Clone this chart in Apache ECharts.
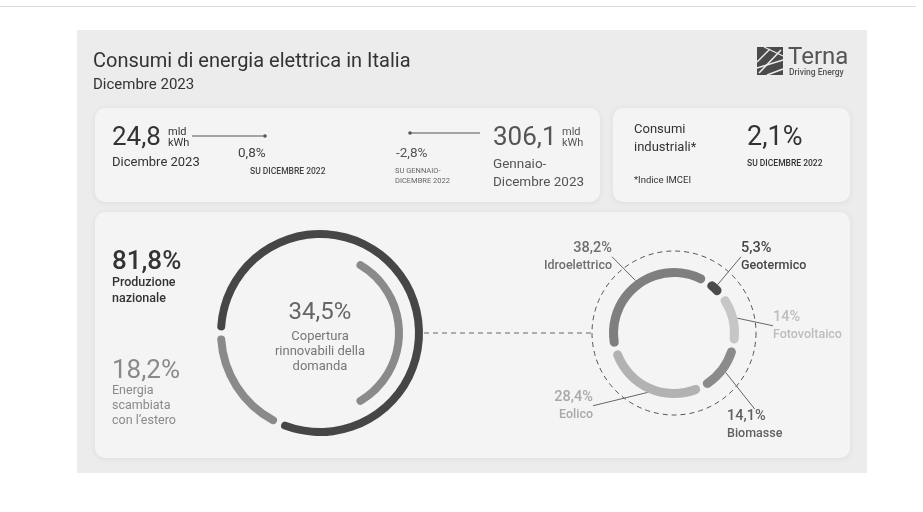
<!DOCTYPE html>
<html>
<head>
<meta charset="utf-8">
<script src="https://cdn.jsdelivr.net/npm/echarts@6/dist/echarts.min.js"></script>
<style>
  html, body { margin: 0; padding: 0; background: #fff; }
  #chart { width: 923px; height: 512px; }
</style>
</head>
<body>
<div id="chart"></div>
<script>
// valori del mese / anno
var monthConsumption = 24.8;
var monthChange = 0.8;
var yearConsumption = 306.1;
var yearChange = -2.8;
var industrialChange = 2.1;

// provenienza dell'energia
var originNames = ['Produzione nazionale', "Energia scambiata con l'estero"];
var originShare = [81.8, 18.2];

// copertura rinnovabili
var renewCoverage = 34.5;

// mix rinnovabili
var sourceNames = ['Idroelettrico', 'Geotermico', 'Fotovoltaico', 'Biomasse', 'Eolico'];
var sourceShare = [38.2, 5.3, 14, 14.1, 28.4];

var FONT = 'Roboto, "Noto Sans", sans-serif';
var sourceColors = ['#7f7f7f', '#4b4b4b', '#c6c6c6', '#8b8b8b', '#b2b2b2'];
var sourceLabelColors = ['#6f6f6f', '#454545', '#bdbdbd', '#616161', '#a9a9a9'];
// label anchor [x, y, align]
var labelSpots = [[612, 257, 'right'], [741, 257, 'left'], [773, 326, 'left'], [727, 425, 'left'], [593, 406, 'right']];

function fmt(v) {
	return String(v).replace('.', ',');
}

function txt(x, y, text, size, color, extra) {
	extra = extra || {};
	return {
		type: 'text',
		x: x,
		y: y,
		z: 20,
		style: {
			text: text,
			fontFamily: FONT,
			fontSize: size,
			fontWeight: extra.weight || 400,
			fill: color,
			textAlign: extra.align || 'left',
			textVerticalAlign: 'middle',
			lineHeight: extra.lineHeight || size * 1.2
		}
	};
}

function card(x, y, w, h) {
	return {
		type: 'rect',
		z: 1,
		shape: {x: x, y: y, width: w, height: h, r: 10},
		style: {fill: '#f4f4f4', shadowBlur: 6, shadowColor: 'rgba(0,0,0,0.07)', shadowOffsetY: 1}
	};
}

function arrowLine(x1, x2, y, dotX) {
	return [
		{type: 'line', z: 20, shape: {x1: x1, y1: y, x2: x2, y2: y}, style: {stroke: '#555', lineWidth: 1}},
		{type: 'circle', z: 20, shape: {cx: dotX, cy: y, r: 1.8}, style: {fill: '#555'}}
	];
}

var logo = [
	{type: 'rect', z: 20, shape: {x: 757, y: 47, width: 26, height: 28}, style: {fill: '#4a4a4a'}},
	{type: 'polyline', z: 21, shape: {points: [[759, 73], [781, 50]]}, style: {stroke: '#ececec', lineWidth: 1.6}},
	{type: 'polyline', z: 21, shape: {points: [[757, 62], [770, 49]]}, style: {stroke: '#ececec', lineWidth: 1.4}},
	{type: 'polyline', z: 21, shape: {points: [[757, 68], [783, 60]]}, style: {stroke: '#ececec', lineWidth: 1.4}},
	{type: 'polyline', z: 21, shape: {points: [[767, 75], [783, 69]]}, style: {stroke: '#ececec', lineWidth: 1.4}},
	{type: 'polyline', z: 21, shape: {points: [[764, 47], [783, 56]]}, style: {stroke: '#ececec', lineWidth: 1.2}},
	txt(788, 58, 'Terna', 24, '#555'),
	txt(789, 73, 'Driving Energy', 8.5, '#555', {weight: 500})
];

var graphics = [
	{type: 'line', z: 0, shape: {x1: 0, y1: 6.5, x2: 916, y2: 6.5}, style: {stroke: '#dcdcdc', lineWidth: 1}},
	{type: 'rect', z: 0, shape: {x: 77, y: 30, width: 790, height: 443}, style: {fill: '#ececec'}},
	card(95, 108, 505, 94),
	card(613, 108, 237, 94),
	card(95, 212, 755, 246),

	txt(93, 62, 'Consumi di energia elettrica in Italia', 20, '#333'),
	txt(93, 85, 'Dicembre 2023', 15, '#333'),

	// card 1
	txt(112, 138, fmt(monthConsumption), 26, '#333'),
	txt(168, 132, 'mld', 11, '#333'),
	txt(168, 143, 'kWh', 11, '#333'),
	txt(112, 163, 'Dicembre 2023', 13, '#333'),
	txt(238, 154, fmt(monthChange) + '%', 13.5, '#444'),
	txt(250, 172, 'SU DICEMBRE 2022', 8.5, '#444', {weight: 500}),
	txt(396, 154, fmt(yearChange) + '%', 13.5, '#555'),
	txt(395, 171, 'SU GENNAIO-', 7.5, '#666'),
	txt(395, 181, 'DICEMBRE 2022', 7.5, '#666'),
	txt(493, 138, fmt(yearConsumption), 26, '#555'),
	txt(562, 132, 'mld', 11, '#555'),
	txt(562, 143, 'kWh', 11, '#555'),
	txt(493, 165, 'Gennaio-', 13.5, '#555'),
	txt(493, 183, 'Dicembre 2023', 13.5, '#555'),

	// card 2
	txt(634, 130, 'Consumi', 13, '#333'),
	txt(634, 148, 'industriali*', 13, '#333'),
	txt(634, 181, '*Indice IMCEI', 9.5, '#333'),
	txt(747, 138, fmt(industrialChange) + '%', 27, '#333'),
	txt(747, 164, 'SU DICEMBRE 2022', 8.5, '#333', {weight: 500}),

	// card 3 left
	txt(112, 262, fmt(originShare[0]) + '%', 26, '#333', {weight: 500}),
	txt(112, 283, 'Produzione', 12.5, '#333', {weight: 500}),
	txt(112, 299, 'nazionale', 12.5, '#333', {weight: 500}),
	txt(112, 371, fmt(originShare[1]) + '%', 26, '#8a8a8a'),
	txt(112, 391, 'Energia', 12.5, '#8a8a8a'),
	txt(112, 406, 'scambiata', 12.5, '#8a8a8a'),
	txt(112, 421, 'con l\u2019estero', 12.5, '#8a8a8a'),

	// centre
	txt(320, 313, fmt(renewCoverage) + '%', 24, '#666', {align: 'center'}),
	txt(320, 337, 'Copertura', 13, '#777', {align: 'center'}),
	txt(320, 352, 'rinnovabili della', 13, '#777', {align: 'center'}),
	txt(320, 367, 'domanda', 13, '#777', {align: 'center'}),

	{type: 'line', z: 5, shape: {x1: 424, y1: 333, x2: 592, y2: 333}, style: {stroke: '#666', lineWidth: 1, lineDash: [5, 4]}},
	{type: 'circle', z: 5, shape: {cx: 674, cy: 333, r: 82}, style: {fill: 'none', stroke: '#555', lineWidth: 1, lineDash: [5, 4]}}
].concat(arrowLine(192, 265, 136, 265), arrowLine(410, 480, 133, 410), logo);

var myChart = echarts.init(document.getElementById('chart'));
var option = {
	animation: false,
	backgroundColor: '#fff',
	graphic: graphics,
	series: [
		{
			name: 'Provenienza',
			type: 'pie',
			z: 10,
			center: [320, 333],
			radius: [95, 103],
			startAngle: 180,
			padAngle: 3,
			silent: true,
			label: {show: false},
			itemStyle: {borderRadius: 4},
			data: originNames.map(function (n, i) {
				return {name: n, value: originShare[i], itemStyle: {color: i === 0 ? '#464646' : '#8a8a8a'}};
			})
		},
		{
			name: 'Copertura',
			type: 'pie',
			z: 10,
			center: [320, 333],
			radius: [75, 83],
			startAngle: renewCoverage * 1.8,
			silent: true,
			label: {show: false},
			itemStyle: {borderRadius: 4},
			data: [
				{name: 'Rinnovabili', value: renewCoverage, itemStyle: {color: '#8a8a8a'}},
				{name: 'Altro', value: 100 - renewCoverage, itemStyle: {color: 'rgba(0,0,0,0)'}}
			]
		},
		{
			name: 'Rinnovabili',
			type: 'pie',
			z: 10,
			center: [674, 333],
			radius: [56, 65],
			startAngle: 195,
			padAngle: 4,
			silent: true,
			itemStyle: {borderRadius: 5},
			label: {
				show: true,
				position: 'outside',
				formatter: function (p) {
					return '{v|' + fmt(p.value) + '%}\n{n|' + p.name + '}';
				},
				rich: {
					v: {fontFamily: FONT, fontSize: 14.5, fontWeight: 500, lineHeight: 18},
					n: {fontFamily: FONT, fontSize: 12.5, fontWeight: 500, lineHeight: 17}
				}
			},
			labelLine: {show: true, length: 18, length2: 0, lineStyle: {color: '#666', width: 1}},
			labelLayout: function (p) {
				var s = labelSpots[p.dataIndex];
				return {x: s[0], y: s[1], align: s[2], verticalAlign: 'middle'};
			},
			data: sourceNames.map(function (n, i) {
				return {
					name: n,
					value: sourceShare[i],
					itemStyle: {color: sourceColors[i]},
					label: {color: sourceLabelColors[i]}
				};
			})
		}
	]
};
myChart.setOption(option);
</script>
</body>
</html>
